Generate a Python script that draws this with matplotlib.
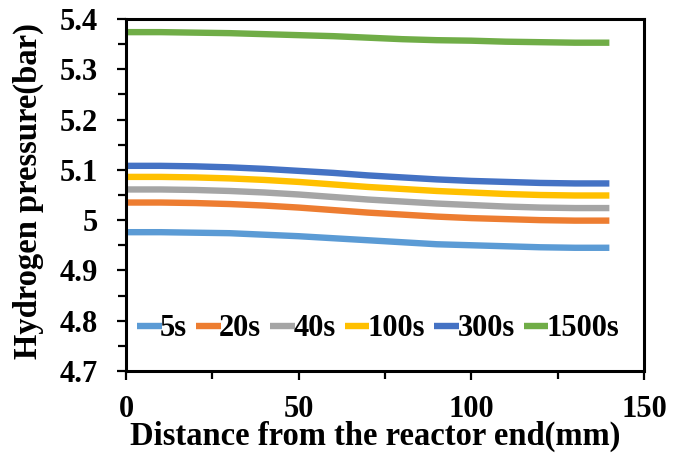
import numpy as np
import matplotlib
matplotlib.use("Agg")
import matplotlib.pyplot as plt
from matplotlib.ticker import MultipleLocator, FuncFormatter

plt.rcParams['font.family'] = ['Liberation Serif', 'DejaVu Serif']
plt.rcParams['font.weight'] = 'bold'

# distance from the reactor end (mm)
distance = [0, 10, 20, 30, 40, 50, 60, 70, 80, 90, 100, 110, 120, 130, 140]

# hydrogen pressure (bar) at each time
p_5s = [4.976, 4.976, 4.975, 4.974, 4.971, 4.968, 4.964, 4.960, 4.956, 4.952,
        4.950, 4.948, 4.946, 4.945, 4.945]
p_20s = [5.035, 5.035, 5.034, 5.032, 5.029, 5.025, 5.020, 5.015, 5.011, 5.007,
         5.004, 5.002, 5.000, 4.999, 4.999]
p_40s = [5.061, 5.061, 5.060, 5.058, 5.055, 5.051, 5.046, 5.041, 5.037, 5.033,
         5.030, 5.027, 5.025, 5.024, 5.024]
p_100s = [5.086, 5.086, 5.085, 5.083, 5.080, 5.076, 5.071, 5.066, 5.062, 5.058,
          5.055, 5.052, 5.050, 5.049, 5.049]
p_300s = [5.108, 5.108, 5.107, 5.105, 5.102, 5.098, 5.094, 5.089, 5.085, 5.081,
          5.078, 5.076, 5.074, 5.073, 5.073]
p_1500s = [5.374, 5.374, 5.373, 5.372, 5.370, 5.368, 5.366, 5.363, 5.360, 5.358,
           5.357, 5.355, 5.354, 5.353, 5.353]

labels = ['5s', '20s', '40s', '100s', '300s', '1500s']
series = [p_5s, p_20s, p_40s, p_100s, p_300s, p_1500s]
colors = ['#5b9bd5', '#ed7d31', '#a5a5a5', '#ffc000', '#4472c4', '#70ad47']

fig = plt.figure(figsize=(6.85, 4.54), dpi=100)
ax = fig.add_axes([0.184, 0.183, 0.756, 0.775])

for y, lab, c in zip(series, labels, colors):
    ax.plot(distance, y, color=c, lw=4.6, label=lab, solid_capstyle='butt')

ax.set_xlim(0, 150)
ax.set_ylim(4.7, 5.4)
ax.xaxis.set_major_locator(MultipleLocator(50))
ax.xaxis.set_minor_locator(MultipleLocator(25))
ax.yaxis.set_major_locator(MultipleLocator(0.1))
ax.yaxis.set_minor_locator(MultipleLocator(0.05))
ax.yaxis.set_major_formatter(FuncFormatter(lambda v, pos: '%g' % round(v, 2)))

for s in ax.spines.values():
    s.set_linewidth(2.2)
ax.tick_params(which='both', direction='out', width=1.6, labelsize=22)
ax.tick_params(which='major', length=6.5)
ax.tick_params(which='minor', length=5.5)
ax.tick_params(axis='x', pad=11)
ax.tick_params(axis='y', pad=14)

ax.set_xlabel('Distance from the reactor end(mm)', fontsize=23.5,
              fontweight='bold')
ax.set_ylabel('Hydrogen pressure(bar)', fontsize=23.5, fontweight='bold')
ax.xaxis.set_label_coords(0.481, -0.143)
ax.yaxis.set_label_coords(-0.158, 0.51)

ax.legend(loc='center', bbox_to_anchor=(0.487, 0.12), ncol=6,
          frameon=False, fontsize=22, handlelength=0.8, handletextpad=-0.05,
          columnspacing=0.3, borderaxespad=0, borderpad=0)

fig.savefig('out.png', dpi=100)
